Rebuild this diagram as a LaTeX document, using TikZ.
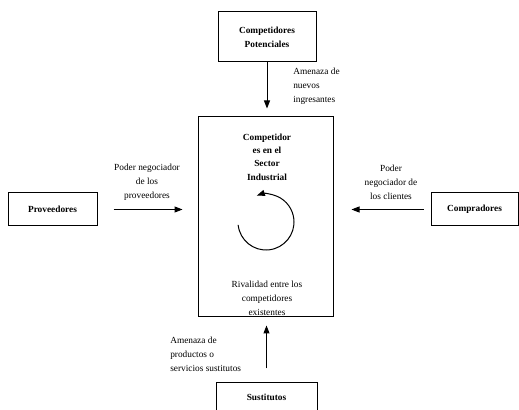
\documentclass[tikz,border=0pt]{standalone}
\usepackage{fontspec}
\setmainfont{Liberation Serif}
\usetikzlibrary{arrows.meta}

\begin{document}
\begin{tikzpicture}[x=0.75pt,y=-0.75pt,
    caja/.style={draw, line width=0.75pt, inner sep=0pt, align=center,
                 font=\fontsize{7}{10.5}\selectfont\bfseries},
    etiqueta/.style={inner sep=0pt, font=\fontsize{7}{10.5}\selectfont},
    flecha/.style={-{Triangle[length=6pt,width=4.5pt]}, line width=0.75pt}]
    \useasboundingbox (0,0) rectangle (519,410);

    % Draw boxes
    \node[caja, minimum width=73.5pt, minimum height=37.5pt] (potenciales) at (267,37)
        {Competidores\\Potenciales};
    \node[caja, minimum width=101.25pt, minimum height=150pt] (sector) at (265.5,217) {};
    \node[caja, minimum width=66.75pt, minimum height=24.75pt] (proveedores) at (52.5,209.5)
        {Proveedores};
    \node[caja, minimum width=65.25pt, minimum height=24.75pt] (compradores) at (474.5,209.5)
        {Compradores};
    \node[caja, minimum width=75.75pt, minimum height=21pt] (sustitutos) at (266.5,397)
        {Sustitutos};

    % Inside the sector box
    \node[etiqueta, font=\fontsize{7}{10}\selectfont\bfseries, align=center] (titulo) at (267,157)
        {Competidor\\es en el\\Sector\\Industrial};
    \node[etiqueta, align=center] (rivalidad) at (267,298)
        {Rivalidad entre los\\competidores\\existentes};
    \coordinate (giro) at (266,222);
    \draw[flecha] ([shift={(174:28)}]giro) arc (174:-109:28);

    % Labels of the forces
    \node[etiqueta, anchor=west, align=left] (nuevos) at (293,86)
        {Amenaza de\\nuevos\\ingresantes};
    \node[etiqueta, align=center] (negproveedores) at (147,182)
        {Poder negociador\\de los\\proveedores};
    \node[etiqueta, align=center] (negclientes) at (391,182)
        {Poder\\negociador de\\los clientes};
    \node[etiqueta, anchor=west, align=left] (productos) at (170,354)
        {Amenaza de\\productos o\\servicios sustitutos};

    % Forces
    \draw[flecha, shorten >=6pt] (potenciales.south) -- (potenciales.south |- sector.north);
    \draw[flecha, shorten <=12pt, shorten >=11.25pt] (proveedores.east) -- (proveedores.east -| sector.west);
    \draw[flecha, shorten <=5.25pt, shorten >=13.5pt] (compradores.west) -- (compradores.west -| sector.east);
    \draw[flecha, shorten <=10.5pt, shorten >=6pt] (sustitutos.north) -- (sustitutos.north |- sector.south);
\end{tikzpicture}
\end{document}
